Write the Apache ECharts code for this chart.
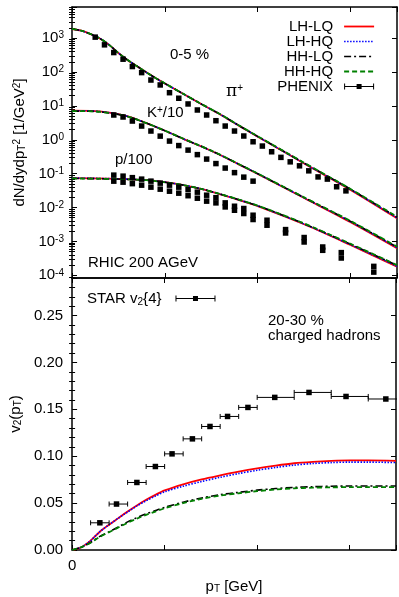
<!DOCTYPE html>
<html><head><meta charset="utf-8">
<script src="https://cdn.jsdelivr.net/npm/echarts@6/dist/echarts.min.js"></script>
<style>html,body{margin:0;padding:0;background:#fff}#c{width:399px;height:597px}</style>
</head><body><div id="c"></div>
<script>
// ---------- data ----------
const ptPi = [0,0.1,0.2,0.3,0.4,0.5,0.6,0.7,0.8,0.9,1.0,1.2,1.4,1.6,1.8,2.0,2.5,3.0,3.5];
const piLHLQ = [1862,1660,1318,977,631,363,224,148,97.7,66.1,45.7,22.4,11.0,5.50,2.57,1.23,0.200,0.0331,0.00479];
const piLHHQ = [1862,1660,1318,977,631,363,224,148,97.7,66.1,45.7,22.4,11.0,5.52,2.58,1.24,0.202,0.0338,0.00495];
const piHHLQ = [1870,1665,1322,980,633,365,225,149,98.3,66.6,46.1,22.6,11.1,5.58,2.62,1.26,0.206,0.0346,0.00515];
const piHHHQ = [1870,1665,1322,980,633,365,225,149,98.3,66.6,46.1,22.6,11.1,5.60,2.64,1.27,0.209,0.0352,0.00535];

const ptK = [0,0.2,0.4,0.6,0.8,1.0,1.2,1.4,1.6,1.8,2.0,2.5,3.0,3.5];
const kLHLQ = [7.2,7.1,6.3,4.9,3.1,1.85,1.06,0.62,0.35,0.185,0.098,0.019,0.0037,0.00063];
const kLHHQ = [7.2,7.1,6.3,4.9,3.1,1.85,1.06,0.62,0.35,0.186,0.099,0.0193,0.0038,0.00065];
const kHHLQ = [7.0,6.95,6.2,4.85,3.1,1.86,1.07,0.63,0.355,0.188,0.100,0.0196,0.0039,0.00068];
const kHHHQ = [7.0,6.95,6.2,4.85,3.1,1.86,1.07,0.63,0.357,0.190,0.101,0.0199,0.0040,0.00070];

const ptP = [0,0.4,0.8,1.0,1.2,1.4,1.6,1.8,2.0,2.5,3.0,3.5];
const pLHLQ = [0.074,0.071,0.065,0.056,0.046,0.035,0.0245,0.0166,0.011,0.0032,0.00078,0.00018];
const pLHHQ = [0.074,0.071,0.065,0.056,0.046,0.035,0.0246,0.0167,0.0111,0.00325,0.00080,0.000185];
const pHHLQ = [0.072,0.070,0.064,0.0555,0.0458,0.0350,0.0247,0.0169,0.0113,0.00332,0.00083,0.000195];
const pHHHQ = [0.072,0.070,0.064,0.0555,0.0458,0.0350,0.0248,0.0170,0.0114,0.00338,0.00085,0.000200];

const phxPiPt = [0.25,0.35,0.45,0.55,0.65,0.75,0.85,0.95,1.05,1.15,1.25,1.35,1.45,1.55,1.65,1.75,1.85,1.95,2.05,2.15,2.25,2.35,2.45,2.55,2.65,2.75,2.85,2.95];
const phxPi = [1070,634,375,239,145,96,58,41.5,24.5,16.8,11.4,7.56,5.38,3.65,2.54,1.81,1.29,0.873,0.652,0.442,0.302,0.223,0.170,0.121,0.080,0.069,0.041,0.031];
const phxKPt = [0.45,0.55,0.65,0.75,0.85,0.95,1.05,1.15,1.25,1.35,1.45,1.55,1.65,1.75,1.85,1.95];
const phxK = [5.38,4.70,3.57,2.54,1.81,1.28,0.914,0.673,0.495,0.364,0.269,0.198,0.146,0.107,0.0788,0.060];
const phxPPt = [0.45,0.55,0.65,0.75,0.85,0.95,1.05,1.15,1.25,1.35,1.45,1.55,1.65,1.75,1.85,1.95,2.1,2.3,2.5,2.7,2.9,3.25];
const phxPa = [0.0903,0.0843,0.0761,0.0688,0.0600,0.0524,0.0457,0.0399,0.0336,0.0284,0.0231,0.0195,0.0137,0.0109,0.00934,0.00592,0.00421,0.00223,0.00130,0.000683,0.000466,0.000183];
const phxPb = [0.0600,0.0560,0.0506,0.0457,0.0399,0.0348,0.0303,0.0265,0.0223,0.0188,0.0154,0.0137,0.0104,0.0083,0.00665,0.00442,0.00300,0.00177,0.00096,0.000545,0.000323,0.000124];

const ptV2 = [0,0.1,0.2,0.3,0.4,0.5,0.6,0.7,0.8,0.9,1.0,1.2,1.4,1.6,1.8,2.0,2.2,2.4,2.6,2.8,3.0,3.2,3.5];
const v2LHLQ = [0,0.003,0.010,0.0195,0.027,0.034,0.041,0.0475,0.0535,0.0588,0.0635,0.070,0.0752,0.0795,0.0835,0.087,0.090,0.0925,0.094,0.095,0.0955,0.0955,0.095];
const v2LHHQ = [0,0.003,0.010,0.0195,0.027,0.034,0.0405,0.047,0.0525,0.0575,0.062,0.068,0.073,0.0775,0.0815,0.085,0.088,0.0905,0.0922,0.0932,0.0937,0.0937,0.0932];
const v2HHLQ = [0,0.003,0.008,0.0145,0.0195,0.0245,0.030,0.0345,0.0385,0.042,0.0455,0.051,0.0555,0.059,0.0615,0.0638,0.0655,0.0668,0.0675,0.068,0.0682,0.0683,0.0683];
const v2HHHQ = [0,0.003,0.0078,0.014,0.019,0.024,0.029,0.0335,0.0375,0.041,0.0445,0.050,0.0545,0.058,0.0605,0.0628,0.0645,0.0657,0.0664,0.0668,0.067,0.067,0.067];

const starPt = [0.3,0.48,0.7,0.9,1.08,1.3,1.49,1.68,1.9,2.19,2.56,2.96,3.39];
const starV2 = [0.029,0.049,0.072,0.089,0.1025,0.1185,0.1317,0.1424,0.152,0.1627,0.168,0.1637,0.161];
const starLo = [0.2,0.4,0.6,0.8,1.0,1.2,1.4,1.6,1.8,2.0,2.4,2.8,3.2];
const starHi = [0.4,0.6,0.8,1.0,1.2,1.4,1.6,1.8,2.0,2.4,2.8,3.2,3.6];

const modelNames = ['LH-LQ','LH-HQ','HH-LQ','HH-HQ'];

// ---------- helpers ----------
const FONT = 'Liberation Sans, Arial, sans-serif';
const zip = (xs, ys) => ys.map((y, i) => [xs[i], y]);
const supRich = {
  sup: {fontSize: 10, lineHeight: 10, verticalAlign: 'top', fontFamily: FONT, color: '#000'},
  sub: {fontSize: 10, lineHeight: 10, verticalAlign: 'bottom', fontFamily: FONT, color: '#000'}
};
const minorTop = [];
for (let d = -5; d <= 3; d++) for (let k = 2; k <= 9; k++) {
  const v = k * Math.pow(10, d);
  if (v > 8.3e-5 && v < 8300) minorTop.push(v);
}
const minorBot = [];
for (let i = 1; i <= 28; i++) if (i % 5 !== 0) minorBot.push(+(i * 0.01).toFixed(2));

const styles = [
  {color: '#ff0000', width: 1.8, type: 'solid'},
  {color: '#0000ff', width: 1.6, type: [1.5, 1.5]},
  {color: '#000000', width: 1.6, type: [7, 3, 2, 3]},
  {color: '#008000', width: 1.8, type: [5, 3]}
];
const axisLineSty = {show: true, onZero: false, lineStyle: {color: '#000', width: 1.5}};
const tickMaj = {show: true, inside: true, length: 5, lineStyle: {color: '#000', width: 1}};

function xAx(grid, pos, labels) {
  return {type: 'value', gridIndex: grid, position: pos, min: 0, max: 3.5, interval: 1,
    axisLine: axisLineSty, axisTick: tickMaj, splitLine: {show: false},
    axisLabel: {show: labels, margin: 8, color: '#000', fontFamily: FONT, fontSize: 15,
      formatter: v => (v === 0 ? '0' : '')}};
}
function yLog(pos, labels, minor) {
  return {type: 'log', logBase: 10, gridIndex: 0, position: pos, min: 8.3e-5, max: 8300, splitNumber: 8,
    axisLine: minor ? {show: false} : axisLineSty, splitLine: {show: false},
    axisTick: minor ? {show: true, inside: true, length: 3, customValues: minorTop, lineStyle: {color: '#000', width: 1}} : tickMaj,
    axisLabel: {show: labels, margin: 8, color: '#000', fontFamily: FONT, fontSize: 15, rich: supRich,
      formatter: v => { const e = Math.log10(v); const r = Math.round(e); return Math.abs(e - r) < 1e-6 ? '10{sup|' + r + '}' : ''; }}};
}
function yLin(pos, labels, minor) {
  return {type: 'value', gridIndex: 1, position: pos, min: 0, max: 0.29, interval: 0.05,
    axisLine: minor ? {show: false} : axisLineSty, splitLine: {show: false},
    axisTick: minor ? {show: true, inside: true, length: 3, customValues: minorBot, lineStyle: {color: '#000', width: 1}} : tickMaj,
    axisLabel: {show: labels, margin: 9, color: '#000', fontFamily: FONT, fontSize: 15,
      formatter: v => { const r = Math.round(v / 0.05); return Math.abs(v - r * 0.05) < 1e-9 ? v.toFixed(2) : ''; }}};
}

const series = [];
const topSets = [[ptPi, [piLHLQ, piLHHQ, piHHLQ, piHHHQ]], [ptK, [kLHLQ, kLHHQ, kHHLQ, kHHHQ]], [ptP, [pLHLQ, pLHHQ, pHHLQ, pHHHQ]]];
const v2Sets = [v2LHLQ, v2LHHQ, v2HHLQ, v2HHHQ];
for (let m = 0; m < 4; m++) {
  for (const [xs, arr] of topSets) {
    series.push({type: 'line', name: modelNames[m], xAxisIndex: 0, yAxisIndex: 0, data: zip(xs, arr[m]),
      showSymbol: false, symbol: 'none', smooth: 0.3, lineStyle: styles[m], itemStyle: {color: styles[m].color}, z: 2 + m});
  }
  series.push({type: 'line', name: modelNames[m], xAxisIndex: 2, yAxisIndex: 4, data: zip(ptV2, v2Sets[m]),
    showSymbol: false, symbol: 'none', smooth: 0.3, lineStyle: styles[m], itemStyle: {color: styles[m].color}, z: 2 + m});
}
for (const [xs, ys] of [[phxPiPt, phxPi], [phxKPt, phxK], [phxPPt, phxPa], [phxPPt, phxPb]]) {
  series.push({type: 'scatter', name: 'PHENIX', xAxisIndex: 0, yAxisIndex: 0, data: zip(xs, ys),
    symbol: 'rect', symbolSize: 5.5, itemStyle: {color: '#000', opacity: 1}, z: 10});
}
series.push({type: 'custom', name: 'STAR', xAxisIndex: 2, yAxisIndex: 4, clip: true, z: 9,
  itemStyle: {color: '#000', opacity: 1},
  data: starV2.map((v, i) => [starLo[i], starHi[i], v]),
  encode: {x: [0, 1], y: 2},
  renderItem: (params, api) => {
    const y = api.value(2);
    const a = api.coord([api.value(0), y]);
    const b = api.coord([api.value(1), y]);
    const st = {stroke: '#000', lineWidth: 1};
    return {type: 'group', children: [
      {type: 'line', shape: {x1: a[0], y1: a[1], x2: b[0], y2: b[1]}, style: st},
      {type: 'line', shape: {x1: a[0], y1: a[1] - 2.5, x2: a[0], y2: a[1] + 2.5}, style: st},
      {type: 'line', shape: {x1: b[0], y1: b[1] - 2.5, x2: b[0], y2: b[1] + 2.5}, style: st}
    ]};
  }});
series.push({type: 'scatter', name: 'STAR', xAxisIndex: 2, yAxisIndex: 4, data: zip(starPt, starV2),
  symbol: 'rect', symbolSize: 5.5, itemStyle: {color: '#000', opacity: 1}, z: 10});

const errIcon30 = 'path://M0,2.5L30,2.5L30,3.5L0,3.5Z M0,0L1,0L1,6L0,6Z M29,0L30,0L30,6L29,6Z M12.5,0.5L17.5,0.5L17.5,5.5L12.5,5.5Z';
const errIcon40 = 'path://M0,2.5L40,2.5L40,3.5L0,3.5Z M0,0L1,0L1,6L0,6Z M39,0L40,0L40,6L39,6Z M17.5,0.5L22.5,0.5L22.5,5.5L17.5,5.5Z';

const txt = (x, y, text, extra) => ({type: 'text', x, y, z: 100,
  style: Object.assign({text, fill: '#000', font: '15px ' + FONT, verticalAlign: 'middle', rich: supRich}, extra || {})});

const lineLegendItem = (n, i) => ({name: n, itemStyle: {opacity: 0, color: 'rgba(0,0,0,0)', borderWidth: 0},
  lineStyle: {color: styles[i].color, width: styles[i].width, type: styles[i].type, opacity: 1}});

const option = {
  animation: false,
  backgroundColor: '#fff',
  grid: [
    {left: 72, top: 7, width: 325, height: 271, show: false},
    {left: 72, top: 278, width: 325, height: 272, show: false}
  ],
  xAxis: [xAx(0, 'bottom', false), xAx(0, 'top', false), xAx(1, 'bottom', true), xAx(1, 'top', false)],
  yAxis: [
    Object.assign(yLog('left', true, false), {name: 'dN/dydp{sub|T}{sup|2} [1/GeV{sup|2}]', nameLocation: 'middle', nameGap: 44,
      nameTextStyle: {fontFamily: FONT, fontSize: 15, color: '#000', rich: supRich}}),
    yLog('right', false, false), yLog('left', false, true), yLog('right', false, true),
    Object.assign(yLin('left', true, false), {name: 'v{sub|2}(p{sub|T})', nameLocation: 'middle', nameGap: 47,
      nameTextStyle: {fontFamily: FONT, fontSize: 15, color: '#000', rich: supRich}}),
    yLin('right', false, false), yLin('left', false, true), yLin('right', false, true)
  ],
  legend: [
    {orient: 'vertical', align: 'right', right: 19, top: 14, itemWidth: 30, itemHeight: 6, itemGap: 0,
      selectedMode: false,
      textStyle: {fontFamily: FONT, fontSize: 15, color: '#000', lineHeight: 15, padding: [0, 6, 0, 0]},
      data: modelNames.map(lineLegendItem).concat([{name: 'PHENIX', icon: errIcon30, itemStyle: {color: '#000', opacity: 1}}])},
    {orient: 'vertical', align: 'right', left: 82, top: 285, itemWidth: 40, itemHeight: 6, selectedMode: false,
      formatter: () => 'STAR v{sub|2}{4}',
      textStyle: {fontFamily: FONT, fontSize: 15, color: '#000', lineHeight: 17, padding: [0, 9, 0, 0], rich: supRich},
      data: [{name: 'STAR', icon: errIcon40, itemStyle: {color: '#000', opacity: 1}}]}
  ],
  graphic: [
    txt(170, 55, '0-5 %'),
    txt(226, 92, 'π{sup|+}', {font: '17px DejaVu Serif, serif'}),
    txt(147, 113, 'K{sup|+}/10'),
    txt(115, 160, 'p/100'),
    txt(88, 263, 'RHIC 200 AGeV'),
    txt(268, 321, '20-30 %'),
    txt(268, 336, 'charged hadrons')
  ],
  series
};
option.xAxis[2].name = 'p{sub|T} [GeV]';
option.xAxis[2].nameLocation = 'middle';
option.xAxis[2].nameGap = 29;
option.xAxis[2].nameTextStyle = {fontFamily: FONT, fontSize: 15, color: '#000', rich: supRich};

const chart = echarts.init(document.getElementById('c'), null, {renderer: 'canvas'});
chart.setOption(option);
</script>
</body></html>
